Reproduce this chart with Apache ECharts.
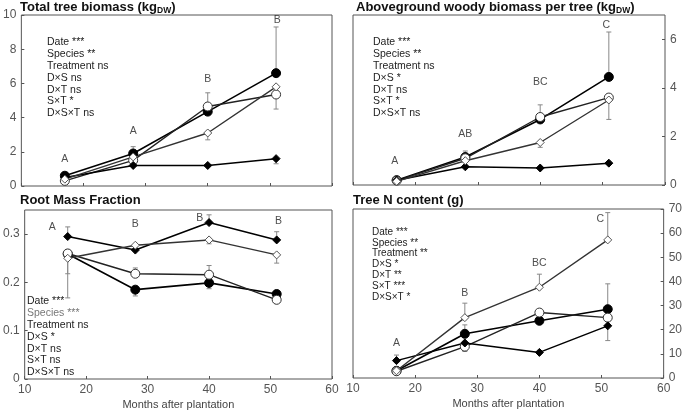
<!DOCTYPE html>
<html><head><meta charset="utf-8">
<script src="https://cdn.jsdelivr.net/npm/echarts@6/dist/echarts.min.js"></script>
<style>html,body{margin:0;padding:0;background:#fff}#c{width:685px;height:416px}</style>
</head><body><div id="c"></div>
<script>
const FONT = '"Liberation Sans", Arial, sans-serif';
const months = [17, 28, 40, 51];
const xTicks = [10, 20, 30, 40, 50, 60];

// Panel 1: Total tree biomass (kg DW)
const tbFilledCircle  = [0.6, 1.9, 4.35, 6.6];
const tbOpenCircle    = [0.3, 1.5, 4.65, 5.35];
const tbFilledDiamond = [0.5, 1.2, 1.2, 1.6];
const tbOpenDiamond   = [0.4, 1.7, 3.1, 5.8];
// error bars: [month, from, to]
const tbErrors = [[28, 1.9, 2.3], [40, 4.65, 5.45], [40, 3.1, 2.7], [51, 6.6, 9.3], [51, 5.35, 4.5], [51, 1.6, 1.3]];
const tbLetters = [[17, 1.6, 'A'], [28, 3.2, 'A'], [40, 6.25, 'B'], [51.2, 9.7, 'B']];
const tbStats = ['Date ***', 'Species **', 'Treatment ns', 'D×S ns', 'D×T ns', 'S×T *', 'D×S×T ns'];

// Panel 2: Aboveground woody biomass per tree (kg DW)
const awFilledCircle  = [0.2, 1.15, 2.7, 4.45];
const awOpenCircle    = [0.18, 1.1, 2.8, 3.6];
const awFilledDiamond = [0.2, 0.75, 0.7, 0.9];
const awOpenDiamond   = [0.15, 1.0, 1.75, 3.5];
const awErrors = [[28, 1.15, 1.4], [40, 2.8, 3.3], [40, 1.75, 1.55], [51, 4.45, 6.3], [51, 3.6, 2.7]];
const awLetters = [[16.7, 1.0, 'A'], [28, 2.1, 'AB'], [40, 4.25, 'BC'], [50.6, 6.6, 'C']];
const awStats = ['Date ***', 'Species **', 'Treatment ns', 'D×S *', 'D×T ns', 'S×T *', 'D×S×T ns'];

// Panel 3: Root Mass Fraction
const rmFilledCircle  = [0.259, 0.185, 0.199, 0.176];
const rmOpenCircle    = [0.26, 0.218, 0.216, 0.164];
const rmFilledDiamond = [0.295, 0.267, 0.324, 0.288];
const rmOpenDiamond   = [0.25, 0.277, 0.288, 0.257];
const rmErrors = [[17, 0.295, 0.315], [17, 0.26, 0.218], [17, 0.25, 0.168], [28, 0.218, 0.23], [28, 0.185, 0.172],
                  [40, 0.324, 0.34], [40, 0.216, 0.235], [40, 0.199, 0.187], [40, 0.288, 0.28], [51, 0.288, 0.305], [51, 0.257, 0.24]];
const rmLetters = [[14.5, 0.315, 'A'], [28, 0.32, 'B'], [38.5, 0.334, 'B'], [51.3, 0.326, 'B']];
const rmStats = ['Date ***', 'Species ***', 'Treatment ns', 'D×S *', 'D×T ns', 'S×T ns', 'D×S×T ns'];

// Panel 4: Tree N content (g)
const ncFilledCircle  = [3, 18.3, 23.7, 28.5];
const ncOpenCircle    = [2.8, 13, 27.1, 25];
const ncFilledDiamond = [7.2, 14.5, 10.6, 21.6];
const ncOpenDiamond   = [3, 25, 37.6, 57.2];
const ncErrors = [[17, 7.2, 9.5], [28, 25, 31], [28, 18.3, 22], [28, 13, 11], [40, 37.6, 43], [51, 57.2, 68.5], [51, 28.5, 39], [51, 21.6, 15.5]];
const ncLetters = [[17, 14.5, 'A'], [28, 35, 'B'], [40, 47.5, 'BC'], [49.8, 65.7, 'C']];
const ncStats = ['Date ***', 'Species **', 'Treatment **', 'D×S *', 'D×T **', 'S×T ***', 'D×S×T *'];

const grids = [
  {left: 20, top: 15, width: 312, height: 171},
  {left: 353, top: 15, width: 312, height: 170},
  {left: 20, top: 210, width: 312, height: 169},
  {left: 353, top: 209, width: 312, height: 169}
];

const styles = {
  fc: {symbol: 'circle', symbolSize: 9, itemStyle: {color: '#000', borderColor: '#000', borderWidth: 1}, lineStyle: {color: '#000', width: 1.6}},
  oc: {symbol: 'circle', symbolSize: 9, itemStyle: {color: '#fff', borderColor: '#333', borderWidth: 1}, lineStyle: {color: '#222', width: 1.4}},
  fd: {symbol: 'diamond', symbolSize: 8, itemStyle: {color: '#000', borderColor: '#000', borderWidth: 1}, lineStyle: {color: '#000', width: 1.5}},
  od: {symbol: 'diamond', symbolSize: 8, itemStyle: {color: '#fff', borderColor: '#555', borderWidth: 1}, lineStyle: {color: '#333', width: 1.4}}
};

const panels = [
  {fc: tbFilledCircle, oc: tbOpenCircle, fd: tbFilledDiamond, od: tbOpenDiamond, err: tbErrors, letters: tbLetters},
  {fc: awFilledCircle, oc: awOpenCircle, fd: awFilledDiamond, od: awOpenDiamond, err: awErrors, letters: awLetters},
  {fc: rmFilledCircle, oc: rmOpenCircle, fd: rmFilledDiamond, od: rmOpenDiamond, err: rmErrors, letters: rmLetters},
  {fc: ncFilledCircle, oc: ncOpenCircle, fd: ncFilledDiamond, od: ncOpenDiamond, err: ncErrors, letters: ncLetters}
];

function errRender(params, api) {
  const x = api.value(0), y0 = api.value(1), y1 = api.value(2);
  const p0 = api.coord([x, y0]), p1 = api.coord([x, y1]);
  const w = 2.5;
  return {type: 'group', children: [
    {type: 'line', shape: {x1: p0[0], y1: p0[1], x2: p1[0], y2: p1[1]}, style: {stroke: '#888', lineWidth: 1}},
    {type: 'line', shape: {x1: p1[0] - w, y1: p1[1], x2: p1[0] + w, y2: p1[1]}, style: {stroke: '#888', lineWidth: 1}}
  ]};
}

const series = [];
panels.forEach((p, i) => {
  series.push({type: 'custom', xAxisIndex: i, yAxisIndex: i, renderItem: errRender, data: p.err, z: 1, silent: true});
  ['fc', 'oc', 'fd', 'od'].forEach(k => {
    series.push(Object.assign({type: 'line', xAxisIndex: i, yAxisIndex: i, z: 3, silent: true,
      data: months.map((m, j) => [m, p[k][j]])}, JSON.parse(JSON.stringify(styles[k]))));
  });
  series.push({type: 'scatter', xAxisIndex: i, yAxisIndex: i, symbolSize: 1, silent: true, z: 4,
    itemStyle: {color: 'rgba(0,0,0,0)'},
    label: {show: true, position: 'inside', formatter: d => d.data[2], fontFamily: FONT, fontSize: 10.5, color: '#222'},
    data: p.letters});
});

const xAxes = grids.map((g, i) => ({
  gridIndex: i, type: 'value', min: 10, max: 60, interval: 10,
  axisLine: {show: false}, splitLine: {show: false},
  axisTick: {show: true, inside: true, length: 3, lineStyle: {color: '#555'}},
  axisLabel: {show: i >= 2, fontFamily: FONT, fontSize: 12, color: '#555', margin: 5},
  name: i >= 2 ? 'Months after plantation' : '', nameLocation: 'middle', nameGap: 20,
  nameTextStyle: {fontFamily: FONT, fontSize: 11, color: '#444'}
}));

const yCfg = [
  {min: 0, max: 10, interval: 2, position: 'left'},
  {min: 0, max: 7, interval: 2, position: 'right'},
  {min: 0, max: 0.35, interval: 0.1, position: 'left'},
  {min: 0, max: 70, interval: 10, position: 'right'}
];
const yAxes = yCfg.map((c, i) => ({
  gridIndex: i, type: 'value', min: c.min, max: c.max, interval: c.interval, position: c.position,
  axisLine: {show: false}, splitLine: {show: false},
  axisTick: {show: true, inside: true, length: 3, lineStyle: {color: '#555'}},
  axisLabel: {fontFamily: FONT, fontSize: 12, color: '#555', margin: 5, showMaxLabel: i === 0 || i === 3,
    formatter: v => (Math.round(v * 100) / 100).toString()}
}));

const titles = [
  {left: 20, top: 0, text: '{a|Total tree biomass (kg}{s|DW}{a|)}'},
  {left: 356, top: 0, text: '{a|Aboveground woody biomass per tree (kg}{s|DW}{a|)}'},
  {left: 20, top: 194, text: '{a|Root Mass Fraction}'},
  {left: 353, top: 194, text: '{a|Tree N content (g)}'}
].map(t => Object.assign(t, {padding: 0, textStyle: {rich: {
  a: {fontFamily: FONT, fontSize: 13, fontWeight: 'bold', color: '#111'},
  s: {fontFamily: FONT, fontSize: 8.5, fontWeight: 'bold', color: '#111', padding: [6, 0, 0, 0]}
}}}));

function statBlock(lines, x, y, lh, fs, grayIdx) {
  return lines.map((t, j) => ({type: 'text', left: x, top: y + j * lh, silent: true,
    style: {text: t, font: fs + 'px ' + FONT, fill: j === grayIdx ? '#777' : '#222'}}));
}
const graphics = [].concat(
  statBlock(tbStats, 47, 37, 11.8, 10.5, -1),
  statBlock(awStats, 373, 37, 11.8, 10.5, -1),
  statBlock(rmStats, 27, 296, 11.8, 10.5, 1),
  statBlock(ncStats, 372, 227, 10.8, 10, -1)
);

const chart = echarts.init(document.getElementById('c'), null, {renderer: 'canvas'});
chart.setOption({
  animation: false,
  backgroundColor: '#fff',
  title: titles,
  grid: grids.map(g => Object.assign({show: true, borderColor: '#555', borderWidth: 1, backgroundColor: 'transparent'}, g)),
  xAxis: xAxes,
  yAxis: yAxes,
  series: series,
  graphic: graphics
});
</script></body></html>
